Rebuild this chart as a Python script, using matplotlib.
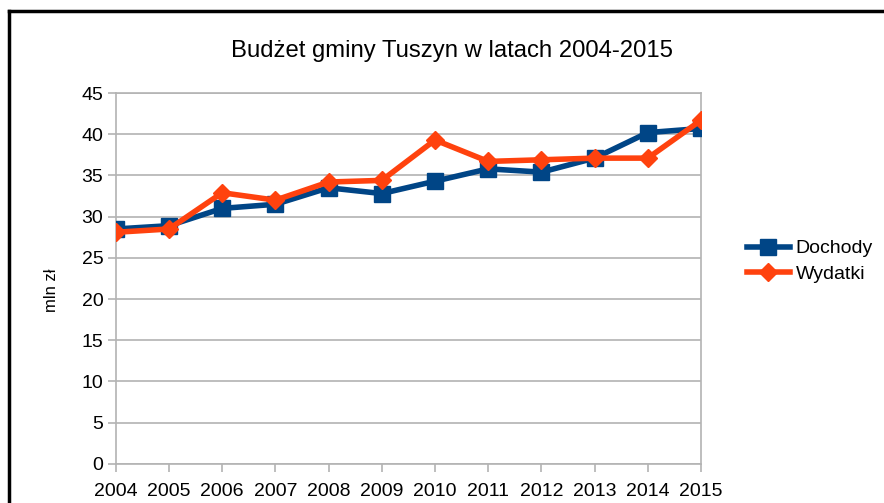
import matplotlib.pyplot as plt
from matplotlib.lines import Line2D

plt.rcParams['font.family'] = ['Liberation Sans', 'DejaVu Sans']

lata = ["2004", "2005", "2006", "2007", "2008", "2009",
        "2010", "2011", "2012", "2013", "2014", "2015"]
dochody = [28.5, 28.9, 31.0, 31.5, 33.5, 32.8, 34.3, 35.8, 35.4, 37.1, 40.2, 40.7]
wydatki = [28.1, 28.5, 32.9, 32.0, 34.2, 34.4, 39.3, 36.7, 36.9, 37.1, 37.1, 41.7]
y_ticks = [0, 5, 10, 15, 20, 25, 30, 35, 40, 45]

fig = plt.figure(figsize=(8.84, 5.03), dpi=100)
ax = fig.add_axes([0.131, 0.078, 0.662, 0.737])

x = list(range(len(lata)))
ax.plot(x, dochody, color="#004586", lw=4, marker="s", ms=11, label="Dochody", zorder=3)
ax.plot(x, wydatki, color="#ff420e", lw=4, marker="D", ms=9, label="Wydatki", zorder=4)

ax.set_xlim(0, len(lata) - 1)
ax.set_ylim(0, 45)
ax.set_xticks(x)
ax.set_xticklabels(lata)
ax.set_yticks(y_ticks)
ax.tick_params(labelsize=14, color="#b3b3b3", length=6, width=1.2, pad=3)
ax.tick_params(axis="x", pad=8)
ax.grid(axis="y", color="#b3b3b3", lw=1.2)
ax.set_axisbelow(True)
for s in ax.spines.values():
    s.set_color("#b3b3b3")
    s.set_linewidth(1.2)

fig.text(452 / 884, 1 - 51 / 503, "Budżet gminy Tuszyn w latach 2004-2015",
         fontsize=17.2, ha="center", va="center")
fig.text(51 / 884, 1 - 290 / 503, "mln zł", fontsize=12, rotation=90,
         ha="center", va="center")

ax.legend(loc="center left", bbox_to_anchor=(1.065, 0.546), frameon=False,
          fontsize=14, handlelength=2.2, numpoints=1, labelspacing=0.4,
          handletextpad=0.3, borderaxespad=0)

# czarna ramka wykresu
fig.add_artist(Line2D([9 / 884, 1], [1 - 11 / 503, 1 - 11 / 503], color="black", lw=2.5))
fig.add_artist(Line2D([9 / 884, 9 / 884], [0, 1 - 11 / 503], color="black", lw=2.5))

fig.savefig("out.png", dpi=100)
